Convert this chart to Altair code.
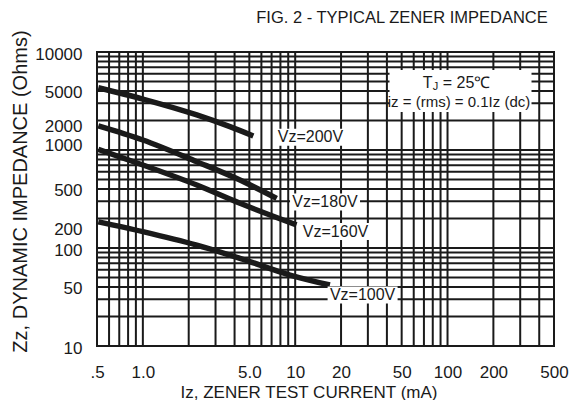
import altair as alt
import pandas as pd

# ---- data ----
vz200_x = [0.51, 1.0, 2.26, 3.73, 5.31]
vz200_y = [4320, 3310, 2280, 1730, 1390]
vz180_x = [0.51, 1.0, 2.26, 4.34, 7.56]
vz180_y = [1760, 1265, 760, 494, 321]
vz160_x = [0.51, 1.0, 2.26, 4.34, 10.2]
vz160_y = [1016, 703, 439, 286, 172]
vz100_x = [0.51, 1.0, 2.26, 4.34, 9.25, 16.9]
vz100_y = [185, 147, 107, 78.5, 53, 41.9]
series_names = ["Vz=200V", "Vz=180V", "Vz=160V", "Vz=100V"]

label_x = [12.6, 15.7, 18.4, 27.7]
label_y = [1348, 295, 147, 33.1]

note_box_x = [121.7]
note_box_y = [4000]
note_line1_x = [115]
note_line1_y = [4862]
note_line2_x = [119]
note_line2_y = [3112]
note_line2_text = ["iz = (rms) = 0.1Iz (dc)"]

x_tick_values = [0.5, 1, 5, 10, 20, 50, 100, 200, 500]
x_tick_labels = [".5", "1.0", "5.0", "10", "20", "50", "100", "200", "500"]
y_tick_values = [10, 50, 100, 200, 500, 1000, 2000, 5000, 10000]

x_grid = [0.6, 0.7, 0.8, 0.9, 1, 2, 3, 4, 5, 6, 7, 8, 9, 10,
          20, 30, 40, 50, 60, 70, 80, 90, 100, 200, 300, 400]
y_grid = [20, 30, 40, 50, 60, 70, 80, 90, 100,
          200, 300, 400, 500, 600, 700, 800, 900, 1000,
          2000, 3000, 4000, 5000, 6000, 7000, 8000, 9000]

# ---- tables ----
curves = pd.concat([
    pd.DataFrame({"x": xs, "y": ys, "s": name})
    for xs, ys, name in [(vz200_x, vz200_y, series_names[0]),
                         (vz180_x, vz180_y, series_names[1]),
                         (vz160_x, vz160_y, series_names[2]),
                         (vz100_x, vz100_y, series_names[3])]
], ignore_index=True)
labels_df = pd.DataFrame({"x": label_x, "y": label_y, "t": series_names})
xgrid_df = pd.DataFrame({"x": x_grid})
ygrid_df = pd.DataFrame({"y": y_grid})
note_box_df = pd.DataFrame({"x": note_box_x, "y": note_box_y})
note1_df = pd.DataFrame({"x": note_line1_x, "y": note_line1_y})
note2_df = pd.DataFrame({"x": note_line2_x, "y": note_line2_y, "t": note_line2_text})

FONT = "Liberation Sans"
INK = "#1a1a1a"

label_expr = " : ".join(
    f"datum.value == {v} ? '{t}'" for v, t in zip(x_tick_values, x_tick_labels)
) + " : datum.label"

xscale = alt.Scale(type="log", domain=[0.5, 500], nice=False)
yscale = alt.Scale(type="log", domain=[10, 10000], nice=False)

x_axis = alt.Axis(
    values=x_tick_values, labelExpr=label_expr, grid=False, ticks=False, tickSize=0,
    domain=False, labelFont=FONT, labelFontSize=17, labelColor=INK,
    labelPadding=31, labelBaseline="alphabetic", labelFlush=False,
    labelOverlap=False, labelBound=False,
    title="Iz, ZENER TEST CURRENT (mA)", titleFont=FONT, titleFontSize=17,
    titleFontWeight="normal", titleColor=INK, titleX=211.5, titleY=51,
    titleBaseline="alphabetic",
)
y_axis = alt.Axis(
    values=y_tick_values, format="d", grid=False, ticks=False, tickSize=0,
    domain=False, labelFont=FONT, labelFontSize=17, labelColor=INK,
    labelPadding=15, labelFlush=False, labelOverlap=False, labelBound=False,
    labelOffset={"condition": [
        {"test": "datum.value == 1000", "value": -5},
        {"test": "datum.value == 2000", "value": 6},
        {"test": "indexof([50, 200, 500, 5000], datum.value) >= 0", "value": 11},
    ], "value": 2},
    title="Zz, DYNAMIC IMPEDANCE (Ohms)", titleFont=FONT, titleFontSize=20,
    titleFontWeight="normal", titleColor=INK, titleX=-71, titleY=139,
    titleBaseline="alphabetic",
)

X = alt.X("x:Q", scale=xscale, axis=x_axis)
Y = alt.Y("y:Q", scale=yscale, axis=y_axis)

vgrid = alt.Chart(xgrid_df).mark_rule(color=INK, strokeWidth=2).encode(x=X)
hgrid = alt.Chart(ygrid_df).mark_rule(color=INK, strokeWidth=2).encode(y=Y)

lines = alt.Chart(curves).mark_line(
    color=INK, strokeWidth=5.5, interpolate="monotone", strokeCap="butt"
).encode(x=X, y=Y, detail="s:N")

label_boxes = alt.Chart(labels_df).mark_rect(
    color="white", width=70, height=17
).encode(x=X, y=Y)
label_text = alt.Chart(labels_df).mark_text(
    font=FONT, fontSize=16, color=INK, align="center", baseline="middle"
).encode(x=X, y=Y, text="t:N")

note_box = alt.Chart(note_box_df).mark_rect(
    color="white", width=142, height=42
).encode(x=X, y=Y)
note_T = alt.Chart(note1_df).mark_text(
    font=FONT, fontSize=16, color=INK, align="left", baseline="middle", dx=-34, text="T"
).encode(x=X, y=Y)
note_J = alt.Chart(note1_df).mark_text(
    font=FONT, fontSize=11, color=INK, align="left", baseline="middle", dx=-24, dy=4, text="J"
).encode(x=X, y=Y)
note_rest = alt.Chart(note1_df).mark_text(
    font=FONT, fontSize=16, color=INK, align="left", baseline="middle", dx=-14, text="= 25\u2103"
).encode(x=X, y=Y)
note_2 = alt.Chart(note2_df).mark_text(
    font=FONT, fontSize=15, color=INK, align="center", baseline="middle"
).encode(x=X, y=Y, text="t:N")

chart = alt.layer(
    vgrid, hgrid, lines, label_boxes, label_text,
    note_box, note_T, note_J, note_rest, note_2
).properties(
    width=457, height=294,
    autosize=alt.AutoSizeParams(type="none"),
    padding={"left": 89, "top": 44, "right": 22, "bottom": 54},
    title=alt.TitleParams(
        "FIG. 2 - TYPICAL ZENER IMPEDANCE", font=FONT, fontSize=16.5,
        fontWeight="normal", color=INK, anchor="middle", frame="group",
        dx=76.5, offset=3,
    ),
    background="white",
).configure_view(stroke=INK, strokeWidth=2)

chart.save("out.html", embed_options={"renderer": "svg", "actions": False})
